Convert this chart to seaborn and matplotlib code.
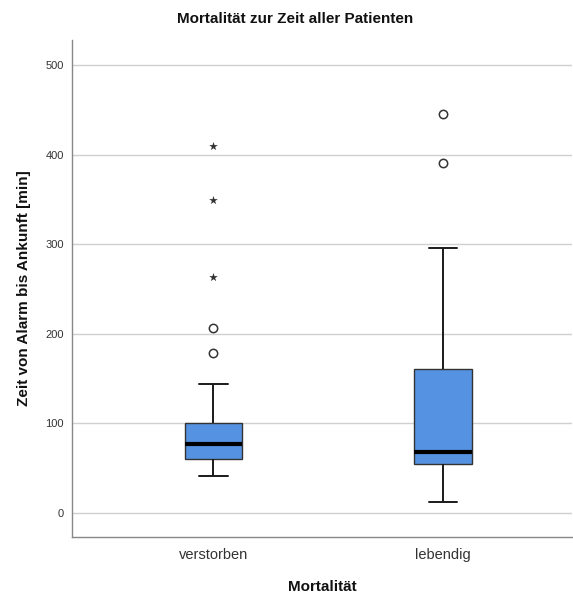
import matplotlib
matplotlib.use("Agg")
import matplotlib.pyplot as plt
import seaborn as sns
import pandas as pd

# Five-number summaries (lower whisker, Q1, median, Q3, upper whisker)
categories = ["verstorben", "lebendig"]
verstorben_summary = [41, 60, 77, 100, 144]
lebendig_summary = [12, 55, 68, 161, 296]
# outliers (circles: > 1.5 IQR, stars: > 3 IQR)
verstorben_circles = [179, 206]
verstorben_stars = [264, 350, 410]
lebendig_circles = [391, 446]
lebendig_stars = []
yticks = [0, 100, 200, 300, 400, 500]

sns.set_theme(style="white")
plt.rcParams["font.family"] = ["Liberation Sans", "DejaVu Sans"]

box_df = pd.DataFrame({
    "Mortalität": [categories[0]] * len(verstorben_summary) + [categories[1]] * len(lebendig_summary),
    "Zeit": verstorben_summary + lebendig_summary,
})
circ_df = pd.DataFrame({
    "Mortalität": [categories[0]] * len(verstorben_circles) + [categories[1]] * len(lebendig_circles),
    "Zeit": verstorben_circles + lebendig_circles,
})
star_df = pd.DataFrame({
    "Mortalität": [categories[0]] * len(verstorben_stars) + [categories[1]] * len(lebendig_stars),
    "Zeit": verstorben_stars + lebendig_stars,
})

fig = plt.figure(figsize=(5.73, 5.98), dpi=100)
ax = fig.add_axes([0.1257, 0.102, 0.872, 0.831])

ax.set_axisbelow(True)
for y in yticks:
    ax.axhline(y, color="#d0d0d0", lw=1.0, zorder=0)

sns.boxplot(data=box_df, x="Mortalität", y="Zeit", order=categories, ax=ax,
            width=0.25, whis=10, showfliers=False,
            color="#5592E2", saturation=1,
            boxprops=dict(facecolor="#5592E2", edgecolor="#333333", linewidth=1.0),
            whiskerprops=dict(color="#1a1a1a", linewidth=1.4),
            capprops=dict(color="#1a1a1a", linewidth=1.4),
            medianprops=dict(color="black", linewidth=3.0),
            zorder=2)

sns.stripplot(data=circ_df, x="Mortalität", y="Zeit", order=categories, ax=ax,
              jitter=False, marker="o", size=6, color="white",
              edgecolor="#333333", linewidth=1.1, zorder=3)
sns.stripplot(data=star_df, x="Mortalität", y="Zeit", order=categories, ax=ax,
              jitter=False, marker="*", size=6.5, color="#333333",
              linewidth=0, zorder=3)

ax.set_xlim(-0.615, 1.56)
ax.set_ylim(-26.8, 528)
ax.set_yticks(yticks)
ax.set_yticklabels([str(v) for v in yticks], fontsize=8, color="#333333")
ax.tick_params(axis="y", length=0, pad=6)
ax.tick_params(axis="x", length=0, pad=8, labelsize=10.5, labelcolor="#333333")

for side in ["top", "right"]:
    ax.spines[side].set_visible(False)
for side in ["left", "bottom"]:
    ax.spines[side].set_color("#888888")
    ax.spines[side].set_linewidth(1.0)

ax.set_xlabel("Mortalität", fontsize=11, fontweight="bold", color="#111111", labelpad=13)
ax.set_ylabel("Zeit von Alarm bis Ankunft [min]", fontsize=11, fontweight="bold", color="#111111", labelpad=10)
fig.text(0.515, 0.968, "Mortalität zur Zeit aller Patienten", ha="center", va="center",
         fontsize=11, fontweight="bold", color="#111111")

fig.savefig("out.png", dpi=100)
